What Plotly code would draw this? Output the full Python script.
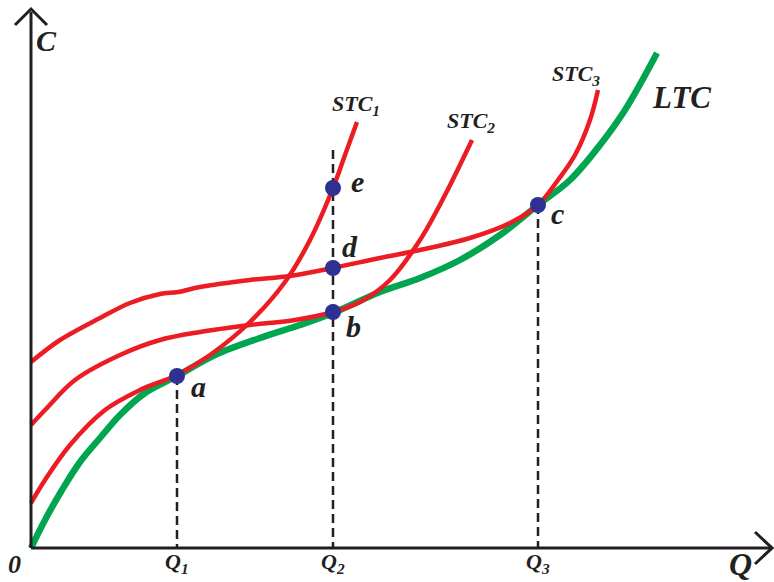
import plotly.graph_objects as go

# Coordinates: x = pixels right of origin, y = pixels above origin
OX, OY = 31, 548
def px(xs): return [x - OX for x in xs]
def py(ys): return [OY - y for y in ys]

ltc_x = [31, 45, 62, 80, 100, 120, 145, 177, 215, 260, 300, 333, 380, 420, 460, 500, 538, 570, 600, 625, 657]
ltc_y = [548, 520, 490, 462, 438, 415, 393, 376, 355, 338, 325, 313, 292, 278, 260, 235, 205, 180, 145, 110, 53]

stc1_x = [31, 45, 70, 105, 140, 177, 210, 250, 285, 310, 333, 345, 357]
stc1_y = [503, 480, 445, 410, 390, 375, 355, 322, 282, 240, 188, 155, 122]

stc2_x = [31, 45, 75, 120, 160, 200, 250, 295, 333, 360, 390, 420, 445, 472]
stc2_y = [425, 410, 380, 355, 340, 332, 325, 320, 312, 302, 280, 240, 195, 140]

stc3_x = [31, 60, 100, 130, 160, 178, 200, 250, 290, 333, 380, 420, 470, 510, 538, 558, 575, 590, 598]
stc3_y = [362, 340, 318, 303, 294, 292, 287, 280, 276, 268, 258, 250, 238, 223, 205, 180, 155, 120, 90]

pt_names = ["a", "b", "c", "d", "e"]
pt_x = [177, 333, 538, 333, 333]
pt_y = [376, 312, 205, 268, 188]

q_labels = ["Q<sub>1</sub>", "Q<sub>2</sub>", "Q<sub>3</sub>"]
q_x = [177, 333, 538]
q_top = [376, 150, 205]

RED = "#ec1c24"
GREEN = "#00a550"
BLUE = "#2e3192"
FONT = "Liberation Serif"

fig = go.Figure()

# dashed verticals
for qx, qt in zip(q_x, q_top):
    fig.add_trace(go.Scatter(x=px([qx, qx]), y=py([qt, OY]), mode="lines",
                             line=dict(color="#231f20", width=2.5, dash="9px,5px"),
                             hoverinfo="skip", showlegend=False))

fig.add_trace(go.Scatter(x=px(ltc_x), y=py(ltc_y), mode="lines",
                         line=dict(color=GREEN, width=6.5, shape="spline"), showlegend=False))
for xs, ys in [(stc1_x, stc1_y), (stc2_x, stc2_y), (stc3_x, stc3_y)]:
    fig.add_trace(go.Scatter(x=px(xs), y=py(ys), mode="lines",
                             line=dict(color=RED, width=4.5, shape="spline"), showlegend=False))

fig.add_trace(go.Scatter(x=px(pt_x), y=py(pt_y), mode="markers",
                         marker=dict(color=BLUE, size=16), showlegend=False))

# axes with open arrowheads
axis_col = "#231f20"
fig.add_shape(type="line", x0=0, y0=0, x1=0, y1=py([12])[0], line=dict(color=axis_col, width=3))
fig.add_shape(type="line", x0=0, y0=0, x1=px([770])[0], y1=0, line=dict(color=axis_col, width=3))
fig.add_shape(type="path", path=f"M {px([15])[0]},{py([25])[0]} L 0,{py([9])[0]} L {px([47])[0]},{py([25])[0]}",
              line=dict(color=axis_col, width=3))
fig.add_shape(type="path", path=f"M {px([755])[0]},{py([532])[0]} L {px([772])[0]},0 L {px([755])[0]},{py([564])[0]}",
              line=dict(color=axis_col, width=3))

def lab(text, x, y, size, xanchor="center"):
    fig.add_annotation(x=px([x])[0], y=py([y])[0], text=f"<b><i>{text}</i></b>",
                       showarrow=False, xanchor=xanchor, yanchor="middle",
                       font=dict(family=FONT, size=size, color="#231f20"))

lab("C", 46, 40, 30)
lab("0", 14, 564, 26)
lab("Q", 740, 564, 32)
for t, x in zip(q_labels, q_x):
    lab(t, x, 563, 22)
lab("STC<sub>1</sub>", 356, 105, 22)
lab("STC<sub>2</sub>", 471, 122, 22)
lab("STC<sub>3</sub>", 576, 75, 22)
lab("LTC", 681, 97, 31)
lab_off = {"a": (21, 10), "b": (20, 14), "c": (19, 8), "d": (17, -22), "e": (24, -7)}
for n, x, y in zip(pt_names, pt_x, pt_y):
    dx, dy = lab_off[n]
    lab(n, x + dx, y + dy, 30)

fig.update_layout(
    width=774, height=582, margin=dict(l=0, r=0, t=0, b=0),
    paper_bgcolor="white", plot_bgcolor="white",
    xaxis=dict(range=[-OX, 774 - OX], visible=False, fixedrange=True),
    yaxis=dict(range=[OY - 582, OY], visible=False, fixedrange=True),
)
fig.write_html("out.html", config={"displayModeBar": False},
               post_script="document.body.style.margin='0';document.body.style.overflow='hidden';")
